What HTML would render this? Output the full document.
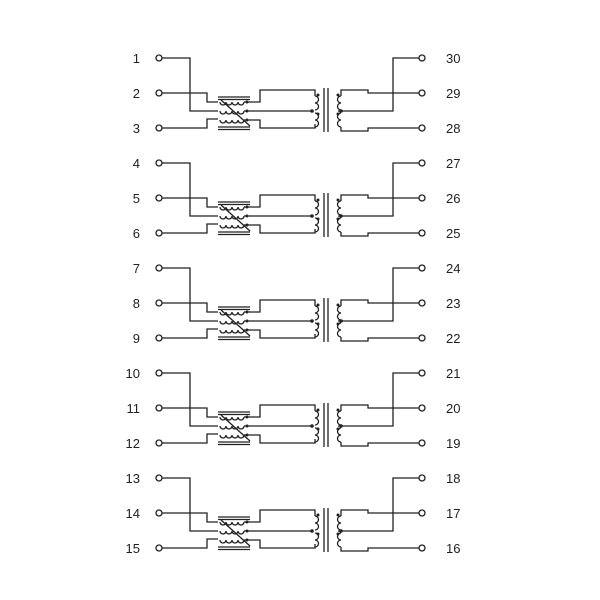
<!DOCTYPE html>
<html><head><style>
body{margin:0;background:#fff;}
svg{display:block;}
text{font-family:"Liberation Sans",sans-serif;font-size:13px;fill:#222;}
</style></head><body>
<svg width="600" height="600" viewBox="0 0 600 600">
<defs>
<g id="blk" fill="none" stroke="#222" stroke-width="1.3">
  <circle cx="159" cy="58" r="3" fill="#fff"/>
  <circle cx="159" cy="93" r="3" fill="#fff"/>
  <circle cx="159" cy="128" r="3" fill="#fff"/>
  <circle cx="422" cy="58" r="3" fill="#fff"/>
  <circle cx="422" cy="93" r="3" fill="#fff"/>
  <circle cx="422" cy="128" r="3" fill="#fff"/>
  <path d="M162 58H190V111H218"/>
  <path d="M162 93H207V102H218"/>
  <path d="M162 128H207V119H218"/>
  <path d="M218 97H250M218 99.5H250M218 127H250M218 129.5H250"/>
  <path d="M220 102a3 3 0 0 0 6 0a3 3 0 0 0 6 0a3 3 0 0 0 6 0a3 3 0 0 0 6 0"/>
  <path d="M220 111a3 3 0 0 0 6 0a3 3 0 0 0 6 0a3 3 0 0 0 6 0a3 3 0 0 0 6 0"/>
  <path d="M220 120a3 3 0 0 0 6 0a3 3 0 0 0 6 0a3 3 0 0 0 6 0a3 3 0 0 0 6 0"/>
  <path d="M221 100L250 126"/>
  <path d="M244 102H260V90H315V96"/>
  <path d="M244 111H312"/>
  <path d="M244 120H260V128H315V124"/>
  <path d="M315 96a3.5 3.5 0 0 1 0 7a3.5 3.5 0 0 1 0 7"/>
  <path d="M315 113a3.5 3.5 0 0 1 0 7a3.5 3.5 0 0 1 0 7"/>
  <path d="M324 88V132M328 88V132"/>
  <path d="M341 96a3.5 3.5 0 0 0 0 7a3.5 3.5 0 0 0 0 7"/>
  <path d="M341 113a3.5 3.5 0 0 0 0 7a3.5 3.5 0 0 0 0 7"/>
  <path d="M341 96V90H368V93H419"/>
  <path d="M341 127V131H368V128H419"/>
  <path d="M338 111H393V58H419"/>
  <g fill="#222" stroke="none">
    <circle cx="247" cy="102" r="1.5"/><circle cx="247" cy="111" r="1.5"/><circle cx="247" cy="120" r="1.5"/>
    <circle cx="318" cy="95" r="1.5"/><circle cx="318" cy="114" r="1.5"/>
    <circle cx="338" cy="95" r="1.5"/><circle cx="338" cy="114" r="1.5"/>
    <circle cx="312" cy="111" r="1.8"/><circle cx="341" cy="111" r="1.8"/>
  </g>
</g>
</defs>
<use href="#blk"/>
<use href="#blk" y="105"/>
<use href="#blk" y="210"/>
<use href="#blk" y="315"/>
<use href="#blk" y="420"/>
<g text-anchor="end">
<text x="140" y="63">1</text><text x="140" y="98">2</text><text x="140" y="133">3</text>
<text x="140" y="168">4</text><text x="140" y="203">5</text><text x="140" y="238">6</text>
<text x="140" y="273">7</text><text x="140" y="308">8</text><text x="140" y="343">9</text>
<text x="140" y="378">10</text><text x="140" y="413">11</text><text x="140" y="448">12</text>
<text x="140" y="483">13</text><text x="140" y="518">14</text><text x="140" y="553">15</text>
</g>
<g>
<text x="446" y="63">30</text><text x="446" y="98">29</text><text x="446" y="133">28</text>
<text x="446" y="168">27</text><text x="446" y="203">26</text><text x="446" y="238">25</text>
<text x="446" y="273">24</text><text x="446" y="308">23</text><text x="446" y="343">22</text>
<text x="446" y="378">21</text><text x="446" y="413">20</text><text x="446" y="448">19</text>
<text x="446" y="483">18</text><text x="446" y="518">17</text><text x="446" y="553">16</text>
</g>
</svg>
</body></html>
